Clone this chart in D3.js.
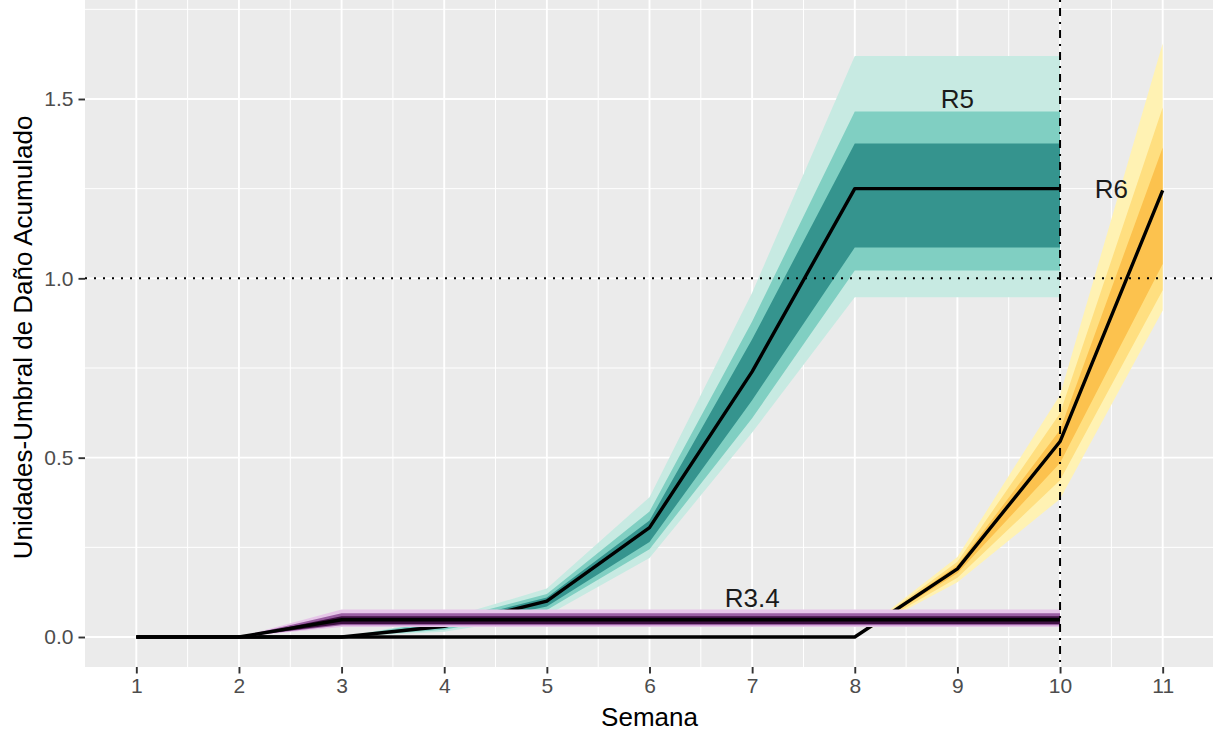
<!DOCTYPE html>
<html lang="es">
<head>
<meta charset="UTF-8">
<title>Unidades-Umbral de Daño Acumulado</title>
<script src="https://d3js.org/d3.v7.min.js"></script>
<style>
    body { margin: 0; background: #fff; }
    svg { font-family: "Liberation Sans", Arial, sans-serif; display: block; }
    .tick-label { fill: #4d4d4d; font-size: 21px; }
    .axis-title { fill: #000; font-size: 26px; }
    .series-label { fill: #1a1a1a; font-size: 26px; }
</style>
</head>
<body>
<div id="chart"></div>
<script>
    // weeks on the x axis
    const weeks = [1, 2, 3, 4, 5, 6, 7, 8, 9, 10, 11];
    const xTicks = [1, 2, 3, 4, 5, 6, 7, 8, 9, 10, 11];
    const yTicks = [0, 0.5, 1.0, 1.5];

    // R5 (weeks 1-10)
    const r5Mean   = [0, 0, 0, 0.030, 0.100, 0.305, 0.740, 1.250, 1.250, 1.250];
    const r5InLo   = [0, 0, 0, 0.025, 0.085, 0.265, 0.660, 1.086, 1.086, 1.086];
    const r5InHi   = [0, 0, 0, 0.038, 0.110, 0.325, 0.830, 1.376, 1.376, 1.376];
    const r5MidLo  = [0, 0, 0, 0.020, 0.075, 0.245, 0.610, 1.022, 1.022, 1.022];
    const r5MidHi  = [0, 0, 0, 0.045, 0.120, 0.350, 0.880, 1.465, 1.465, 1.465];
    const r5OutLo  = [0, 0, 0, 0.015, 0.060, 0.220, 0.570, 0.947, 0.947, 0.947];
    const r5OutHi  = [0, 0, 0, 0.050, 0.135, 0.390, 0.960, 1.620, 1.620, 1.620];

    // R6 (weeks 1-11)
    const r6Mean   = [0, 0, 0, 0, 0, 0, 0, 0, 0.190, 0.545, 1.245];
    const r6InLo   = [0, 0, 0, 0, 0, 0, 0, 0, 0.178, 0.485, 1.040];
    const r6InHi   = [0, 0, 0, 0, 0, 0, 0, 0, 0.200, 0.577, 1.365];
    const r6MidLo  = [0, 0, 0, 0, 0, 0, 0, 0, 0.165, 0.437, 0.967];
    const r6MidHi  = [0, 0, 0, 0, 0, 0, 0, 0, 0.210, 0.624, 1.476];
    const r6OutLo  = [0, 0, 0, 0, 0, 0, 0, 0, 0.153, 0.385, 0.910];
    const r6OutHi  = [0, 0, 0, 0, 0, 0, 0, 0, 0.223, 0.675, 1.655];

    // R3.4 (weeks 1-10)
    const r34Mean  = [0, 0, 0.048, 0.048, 0.048, 0.048, 0.048, 0.048, 0.048, 0.048];
    const r34InLo  = [0, 0, 0.036, 0.036, 0.036, 0.036, 0.036, 0.036, 0.036, 0.036];
    const r34InHi  = [0, 0, 0.058, 0.058, 0.058, 0.058, 0.058, 0.058, 0.058, 0.058];
    const r34MidLo = [0, 0, 0.033, 0.033, 0.033, 0.033, 0.033, 0.033, 0.033, 0.033];
    const r34MidHi = [0, 0, 0.066, 0.066, 0.066, 0.066, 0.066, 0.066, 0.066, 0.066];
    const r34OutLo = [0, 0, 0.028, 0.028, 0.028, 0.028, 0.028, 0.028, 0.028, 0.028];
    const r34OutHi = [0, 0, 0.077, 0.077, 0.077, 0.077, 0.077, 0.077, 0.077, 0.077];

    const labelNames = ["R5", "R6", "R3.4"];
    const labelX = [9, 10.5, 7];
    const labelY = [1.5, 1.25, 0.11];

    const thresholdY = 1.0;
    const cutWeek = 10;

    const width = 1213, height = 731;
    const panel = { left: 85, right: 1214, top: 0, bottom: 667 };

    const x = d3.scaleLinear().domain([0.5, 11.5]).range([panel.left, panel.right]);
    const y = d3.scaleLinear().domain([-0.0836, 1.776]).range([panel.bottom, panel.top]);

    const svg = d3.select("#chart").append("svg")
        .attr("width", width)
        .attr("height", height);

    svg.append("defs").append("clipPath").attr("id", "clip")
        .append("rect")
        .attr("x", panel.left).attr("y", panel.top)
        .attr("width", panel.right - panel.left)
        .attr("height", panel.bottom - panel.top);

    svg.append("rect")
        .attr("x", panel.left).attr("y", panel.top)
        .attr("width", panel.right - panel.left)
        .attr("height", panel.bottom - panel.top)
        .attr("fill", "#ebebeb");

    const plot = svg.append("g").attr("clip-path", "url(#clip)");

    // grid
    const minorX = d3.range(1.5, 11.5, 1);
    const minorY = [0.25, 0.75, 1.25, 1.75];
    plot.selectAll(".minor-x").data(minorX).enter().append("line")
        .attr("x1", d => x(d)).attr("x2", d => x(d))
        .attr("y1", panel.top).attr("y2", panel.bottom)
        .attr("stroke", "#fff").attr("stroke-width", 1);
    plot.selectAll(".minor-y").data(minorY).enter().append("line")
        .attr("y1", d => y(d)).attr("y2", d => y(d))
        .attr("x1", panel.left).attr("x2", panel.right)
        .attr("stroke", "#fff").attr("stroke-width", 1);
    plot.selectAll(".major-x").data(xTicks).enter().append("line")
        .attr("x1", d => x(d)).attr("x2", d => x(d))
        .attr("y1", panel.top).attr("y2", panel.bottom)
        .attr("stroke", "#fff").attr("stroke-width", 1.9);
    plot.selectAll(".major-y").data(yTicks).enter().append("line")
        .attr("y1", d => y(d)).attr("y2", d => y(d))
        .attr("x1", panel.left).attr("x2", panel.right)
        .attr("stroke", "#fff").attr("stroke-width", 1.9);

    const area = (lo, hi) => d3.area()
        .x((d, i) => x(weeks[i]))
        .y0((d, i) => y(lo[i]))
        .y1((d, i) => y(hi[i]))(lo);

    const line = vals => d3.line()
        .x((d, i) => x(weeks[i]))
        .y(d => y(d))(vals);

    function drawSeries(bands, colors, mean) {
        bands.forEach((b, k) => {
            plot.append("path")
                .attr("d", area(b[0], b[1]))
                .attr("fill", colors[k]);
        });
        plot.append("path")
            .attr("d", line(mean))
            .attr("fill", "none")
            .attr("stroke", "#000")
            .attr("stroke-width", 3.4)
            .attr("stroke-linejoin", "round");
    }

    drawSeries([[r5OutLo, r5OutHi], [r5MidLo, r5MidHi], [r5InLo, r5InHi]],
        ["#c7eae2", "#80cfc2", "#35948e"], r5Mean);
    drawSeries([[r6OutLo, r6OutHi], [r6MidLo, r6MidHi], [r6InLo, r6InHi]],
        ["#fff2b3", "#ffdf80", "#fcc24e"], r6Mean);
    drawSeries([[r34OutLo, r34OutHi], [r34MidLo, r34MidHi], [r34InLo, r34InHi]],
        ["#e6c6e8", "#9a5ea2", "#3e0f42"], r34Mean);

    // reference lines
    plot.append("line")
        .attr("x1", panel.left).attr("x2", panel.right)
        .attr("y1", y(thresholdY)).attr("y2", y(thresholdY))
        .attr("stroke", "#000").attr("stroke-width", 2)
        .attr("stroke-dasharray", "2,7");
    plot.append("line")
        .attr("x1", x(cutWeek)).attr("x2", x(cutWeek))
        .attr("y1", panel.top).attr("y2", panel.bottom)
        .attr("stroke", "#000").attr("stroke-width", 2)
        .attr("stroke-dasharray", "2,6,8,6");

    // series labels
    plot.selectAll(".series-label").data(labelNames).enter().append("text")
        .attr("class", "series-label")
        .attr("x", (d, i) => x(labelX[i]))
        .attr("y", (d, i) => y(labelY[i]))
        .attr("dy", "0.35em")
        .attr("text-anchor", "middle")
        .text(d => d);

    // axes
    const xAxis = svg.append("g")
        .attr("transform", `translate(0,${panel.bottom})`)
        .call(d3.axisBottom(x).tickValues(xTicks).tickSize(6.5).tickPadding(5).tickFormat(d3.format("d")));
    const yAxis = svg.append("g")
        .attr("transform", `translate(${panel.left},0)`)
        .call(d3.axisLeft(y).tickValues(yTicks).tickSize(6.5).tickPadding(5).tickFormat(d3.format(".1f")));

    [xAxis, yAxis].forEach(g => {
        g.select(".domain").remove();
        g.selectAll(".tick line").attr("stroke", "#333").attr("stroke-width", 1.9);
        g.selectAll(".tick text").attr("class", "tick-label").attr("fill", null)
            .style("font-family", null).style("font-size", null);
        g.attr("font-family", null).attr("font-size", null);
    });

    svg.append("text")
        .attr("class", "axis-title")
        .attr("x", (panel.left + panel.right) / 2)
        .attr("y", 726)
        .attr("text-anchor", "middle")
        .text("Semana");

    svg.append("text")
        .attr("class", "axis-title")
        .attr("transform", `translate(32,${(panel.top + panel.bottom) / 2 + 4}) rotate(-90)`)
        .attr("text-anchor", "middle")
        .text("Unidades-Umbral de Daño Acumulado");
</script>
</body>
</html>
